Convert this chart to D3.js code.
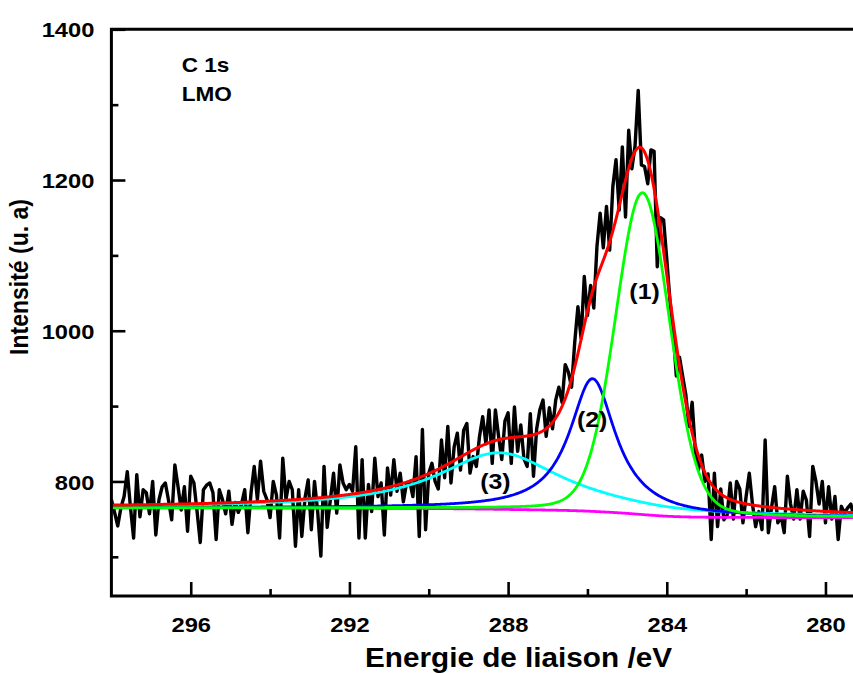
<!DOCTYPE html>
<html>
<head>
<meta charset="utf-8">
<script src="https://cdn.jsdelivr.net/npm/d3@7"></script>
<style>
  body { margin: 0; background: #fff; }
  text { font-family: "Liberation Sans", Arial, sans-serif; font-weight: bold; fill: #000; }
</style>
</head>
<body>
<svg id="chart" width="853" height="673"></svg>
<script>
// C 1s scan: binding energy grid (eV)
const scanStart = 298.0;
const scanStep = 0.08;

// Recorded intensity (u. a), one value per energy step, high BE -> low BE
const counts = [
  776, 759, 741, 765, 780, 813, 766, 725, 809, 753, 789, 785, 757, 800, 729, 776, 793, 798, 775, 749,
  822, 793, 762, 793, 734, 807, 798, 760, 719, 789, 795, 798, 785, 723, 789, 776, 757, 787, 743, 772,
  759, 770, 789, 732, 785, 820, 776,
  827, 787, 776, 752, 800, 782, 725, 831, 776, 800, 789, 714, 789, 727, 778, 802, 736, 800, 760, 701,
  820, 739, 776, 811, 758, 822, 798, 789, 796, 787, 846, 725, 829, 725, 796, 760, 831, 780, 798, 729,
  818, 782, 829, 787, 811, 773, 798,
  800, 780, 833, 727, 869, 736, 811, 824, 800, 790, 855, 805, 873, 798, 846, 864, 815, 868, 877, 811,
  833, 820, 860, 886, 850, 895, 824, 895, 860, 829, 880, 891, 824, 899, 840, 875, 830, 820, 890, 807,
  870, 895, 908, 860, 898, 870, 908,
  925, 905, 955, 945, 925, 985, 1032, 990, 1072, 1020, 1060, 1030, 1112, 1156, 1110, 1165, 1107, 1191, 1227, 1160,
  1244, 1151, 1266, 1215, 1245, 1319, 1220, 1218, 1195, 1240, 1238, 1085, 1150, 1147, 1095, 1040, 1000, 940, 965, 940,
  915, 873, 905, 840, 816, 835, 800,
  810, 723, 811, 740, 790, 749, 755, 798, 750, 800, 790, 745, 780, 811, 770, 740, 760, 736, 855, 732,
  765, 793, 745, 755, 732, 807, 770, 750, 789, 750, 787, 775, 727, 820, 800, 770, 800, 745, 793, 750,
  780, 723, 767, 758, 765, 770, 752
];

// Fitted components (pseudo-Voigt): label, centre (eV), height above background,
// FWHM (eV), Lorentzian fraction
const peakLabels  = ["(1)", "(2)", "(3)"];
const peakCentres = [284.61, 285.87, 288.22];
const peakHeights = [427, 176, 75];
const peakFwhm    = [1.62, 1.41, 3.8];
const peakLorentz = [0.15, 1.0, 1.0];
const peakColours = ["#00ff00", "#0000ff", "#00ffff"];
// label anchor positions of the components (eV, intensity at the text baseline)
const peakLabelE  = [284.56, 285.88, 288.32];
const peakLabelI  = [1042, 872, 790];

// Shirley background end levels: high-BE side, low-BE side
const bgHigh = 765;
const bgLow  = 752;

// Axis ticks
const xTicks = [296, 292, 288, 284, 280];
const xMinor = [294, 290, 286, 282];
const yTicks = [800, 1000, 1200, 1400];
const yMinor = [700, 900, 1100, 1300];

// ---------------------------------------------------------------
const svg = d3.select("#chart");
const W = 853, H = 673;
const plotLeft = 111.4, plotTop = 29.3, plotBottom = 596;
const stretch = 1.13;  // horizontal widening of the lettering

const x = d3.scaleLinear().domain([298, 278]).range([plotLeft, 904.8]);
const y = d3.scaleLinear().domain([648, 1400]).range([plotBottom, plotTop]);

const peaks = peakLabels.map((label, i) => ({
  label, c: peakCentres[i], h: peakHeights[i], f: peakFwhm[i], eta: peakLorentz[i],
  colour: peakColours[i], lx: peakLabelE[i], ly: peakLabelI[i]
}));

function pv(E, p) {
  const d = (E - p.c) / p.f;
  const g = Math.exp(-4 * Math.LN2 * d * d);
  const l = 1 / (1 + 4 * d * d);
  return p.h * ((1 - p.eta) * g + p.eta * l);
}

// Fine grid for the fit curves
const fine = d3.range(0, 951).map(i => 298 - i * 0.02);
const peakSum = fine.map(E => d3.sum(peaks, p => pv(E, p)));
// Shirley-type background: proportional to peak area on the low-BE side
const cum = new Array(fine.length);
let acc = 0;
for (let j = fine.length - 1; j >= 0; j--) { acc += peakSum[j]; cum[j] = acc; }
const bg = cum.map(c => bgLow + (bgHigh - bgLow) * c / acc);

const defs = svg.append("defs");
defs.append("clipPath").attr("id", "plotClip")
  .append("rect").attr("x", plotLeft).attr("y", plotTop - 2)
  .attr("width", W - plotLeft).attr("height", plotBottom - plotTop + 2);

const plot = svg.append("g").attr("clip-path", "url(#plotClip)");

// Measured spectrum
const spectrum = counts.map((v, i) => ({ E: scanStart - i * scanStep, v }));
plot.append("path")
  .datum(spectrum)
  .attr("fill", "none")
  .attr("stroke", "#000")
  .attr("stroke-width", 3.4)
  .attr("stroke-linejoin", "round")
  .attr("d", d3.line().x(d => x(d.E)).y(d => y(d.v)));

const curve = d3.line().x(d => x(d[0])).y(d => y(d[1]));

// Background
plot.append("path")
  .datum(fine.map((E, j) => [E, bg[j]]))
  .attr("fill", "none").attr("stroke", "#ff00ff").attr("stroke-width", 2.8)
  .attr("d", curve);

// Components, drawn back to front: (3), (2), (1)
[2, 1, 0].forEach(k => {
  const p = peaks[k];
  plot.append("path")
    .datum(fine.map((E, j) => [E, bg[j] + pv(E, p)]))
    .attr("fill", "none").attr("stroke", p.colour).attr("stroke-width", 2.8)
    .attr("d", curve);
});

// Envelope
plot.append("path")
  .datum(fine.map((E, j) => [E, bg[j] + peakSum[j]]))
  .attr("fill", "none").attr("stroke", "#ff0000").attr("stroke-width", 3)
  .attr("d", curve);

// ---------------- axes ----------------
function styleAxis(g) {
  g.select(".domain").remove();
  g.selectAll(".tick line").attr("stroke", "#000").attr("stroke-width", 2.6);
}

const xAxis = svg.append("g").attr("transform", `translate(0,${plotBottom})`)
  .call(d3.axisBottom(x).tickValues(xTicks).tickSizeInner(-14).tickSizeOuter(0).tickFormat(d3.format("d")));
styleAxis(xAxis);
xAxis.selectAll(".tick text")
  .attr("y", 0).attr("dy", 0)
  .attr("transform", `translate(0,36) scale(${stretch},1)`)
  .attr("font-size", 21).attr("fill", "#000");

const xMinorAxis = svg.append("g").attr("transform", `translate(0,${plotBottom})`)
  .call(d3.axisBottom(x).tickValues(xMinor).tickSizeInner(-7).tickSizeOuter(0).tickFormat(""));
styleAxis(xMinorAxis);

const yAxis = svg.append("g").attr("transform", `translate(${plotLeft},0)`)
  .call(d3.axisLeft(y).tickValues(yTicks).tickSizeInner(-14).tickSizeOuter(0).tickFormat(d3.format("d")));
styleAxis(yAxis);
yAxis.selectAll(".tick text")
  .attr("x", 0).attr("dy", "0.36em")
  .attr("transform", `translate(-17,0) scale(${stretch},1)`)
  .attr("font-size", 21).attr("fill", "#000");

const yMinorAxis = svg.append("g").attr("transform", `translate(${plotLeft},0)`)
  .call(d3.axisLeft(y).tickValues(yMinor).tickSizeInner(-7).tickSizeOuter(0).tickFormat(""));
styleAxis(yMinorAxis);

// Frame: left, top and bottom lines
svg.append("path")
  .attr("d", `M${plotLeft},${plotBottom} V${plotTop} H${W + 10} M${plotLeft - 1.5},${plotBottom} H${W + 10}`)
  .attr("fill", "none").attr("stroke", "#000").attr("stroke-width", 3);

// Axis titles
svg.append("text")
  .attr("transform", `translate(518.5,667) scale(1.1,1)`)
  .attr("text-anchor", "middle").attr("font-size", 27)
  .text("Energie de liaison /eV");

svg.append("text")
  .attr("transform", `translate(19,277) scale(${stretch},1) rotate(-90)`)
  .attr("text-anchor", "middle").attr("dy", "0.35em").attr("font-size", 23)
  .text("Intensité (u. a)");

// Sample annotation
svg.append("text").attr("transform", `translate(181.7,72) scale(${stretch},1)`)
  .attr("font-size", 20).text("C 1s");
svg.append("text").attr("transform", `translate(181.7,101) scale(${stretch},1)`)
  .attr("font-size", 20).text("LMO");

// Component labels
peaks.forEach(p => {
  svg.append("text")
    .attr("transform", `translate(${x(p.lx)},${y(p.ly)}) scale(${stretch},1)`)
    .attr("text-anchor", "middle").attr("font-size", 22)
    .text(p.label);
});
</script>
</body>
</html>
